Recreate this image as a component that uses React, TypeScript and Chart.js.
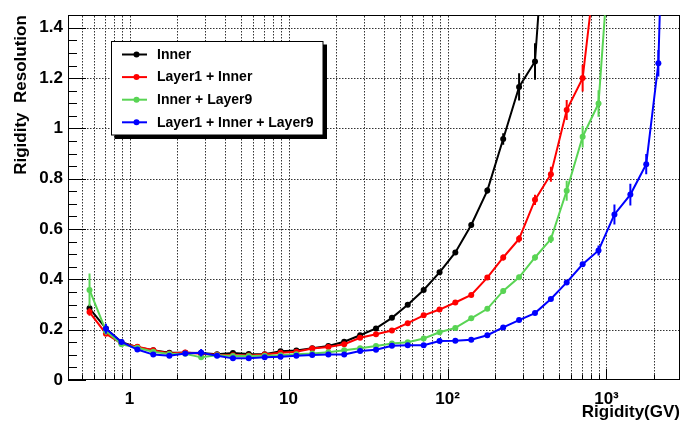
import React, { useEffect, useRef } from 'react';
import { Chart, registerables } from 'chart.js';

Chart.register(...registerables);

// ---------------- data ----------------
const rigidity = [
  0.56, 0.71, 0.89, 1.12, 1.41, 1.78, 2.24, 2.82, 3.55, 4.47, 5.62, 7.08, 8.91,
  11.2, 14.1, 17.8, 22.4, 28.2, 35.5, 44.7, 56.2, 70.8, 89.1, 112, 141, 178, 224,
  282, 355, 447, 562, 708, 891, 1122, 1413, 1778, 2120, 2820,
];

const inner = [
  0.285, 0.205, 0.150, 0.130, 0.118, 0.108, 0.108, 0.107, 0.102, 0.107, 0.103, 0.102, 0.114,
  0.117, 0.126, 0.135, 0.152, 0.178, 0.205, 0.247, 0.299, 0.358, 0.428, 0.507, 0.616, 0.753, 0.958,
  1.165, 1.266, 2.15, null, null, null, null, null, null, null, null,
];
const innerErr = [
  0.015, 0.010, 0.006, 0.005, 0.004, 0.004, 0.004, 0.004, 0.004, 0.004, 0.004, 0.004, 0.004,
  0.004, 0.004, 0.004, 0.004, 0.005, 0.005, 0.005, 0.006, 0.006, 0.007, 0.008, 0.010, 0.012, 0.023,
  0.054, 0.073, 0.1, 0, 0, 0, 0, 0, 0, 0, 0,
];

const layer1Inner = [
  0.270, 0.184, 0.145, 0.132, 0.118, 0.105, 0.109, 0.104, 0.100, 0.098, 0.097, 0.101, 0.108,
  0.112, 0.125, 0.131, 0.142, 0.168, 0.182, 0.197, 0.226, 0.257, 0.280, 0.308, 0.338, 0.407, 0.487,
  0.561, 0.716, 0.818, 1.073, 1.200, 1.740, null, null, null, null, null,
];
const layer1InnerErr = [
  0.015, 0.008, 0.005, 0.005, 0.004, 0.004, 0.004, 0.004, 0.004, 0.004, 0.004, 0.004, 0.004,
  0.004, 0.004, 0.004, 0.004, 0.005, 0.005, 0.005, 0.005, 0.006, 0.006, 0.007, 0.008, 0.010, 0.012,
  0.014, 0.020, 0.030, 0.040, 0.053, 0.07, 0, 0, 0, 0, 0,
];

const innerLayer9 = [
  0.358, 0.195, 0.142, 0.128, 0.112, 0.103, 0.104, 0.090, 0.098, 0.095, 0.095, 0.096, 0.098,
  0.102, 0.105, 0.110, 0.118, 0.126, 0.135, 0.145, 0.150, 0.165, 0.190, 0.207, 0.245, 0.283, 0.354,
  0.408, 0.487, 0.560, 0.752, 0.967, 1.099, 1.980, null, null, null, null,
];
const innerLayer9Err = [
  0.065, 0.015, 0.006, 0.005, 0.004, 0.004, 0.004, 0.008, 0.004, 0.004, 0.004, 0.004, 0.004,
  0.004, 0.004, 0.004, 0.004, 0.004, 0.005, 0.005, 0.005, 0.005, 0.006, 0.006, 0.007, 0.008, 0.010,
  0.010, 0.012, 0.015, 0.040, 0.043, 0.053, 0.07, 0, 0, 0, 0,
];

const layer1InnerLayer9 = [
  null, 0.204, 0.151, 0.121, 0.101, 0.096, 0.105, 0.108, 0.096, 0.086, 0.086, 0.090, 0.092,
  0.096, 0.099, 0.101, 0.101, 0.115, 0.120, 0.136, 0.138, 0.138, 0.155, 0.156, 0.160, 0.178, 0.209,
  0.238, 0.266, 0.322, 0.388, 0.460, 0.515, 0.658, 0.737, 0.858, 1.259, 4.0,
];
const layer1InnerLayer9Err = [
  0, 0.020, 0.008, 0.005, 0.005, 0.005, 0.006, 0.015, 0.006, 0.005, 0.005, 0.005, 0.005,
  0.004, 0.004, 0.004, 0.004, 0.004, 0.004, 0.004, 0.004, 0.005, 0.005, 0.005, 0.005, 0.005, 0.006,
  0.006, 0.006, 0.006, 0.006, 0.010, 0.020, 0.040, 0.043, 0.040, 0.053, 0.1,
];

const seriesLabels = ['Inner', 'Layer1 + Inner', 'Inner + Layer9', 'Layer1 + Inner + Layer9'];
const seriesValues = [inner, layer1Inner, innerLayer9, layer1InnerLayer9];
const seriesErrors = [innerErr, layer1InnerErr, innerLayer9Err, layer1InnerLayer9Err];
const seriesColors = ['#000000', '#ff0000', '#59d454', '#0000ff'];

const xTickValues = [
  0.5, 0.6, 0.7, 0.8, 0.9,
  1, 2, 3, 4, 5, 6, 7, 8, 9,
  10, 20, 30, 40, 50, 60, 70, 80, 90,
  100, 200, 300, 400, 500, 600, 700, 800, 900,
  1000, 2000,
];
const xTickLabels: Record<string, string> = { '1': '1', '10': '10', '100': '10²', '1000': '10³' };
const yTickValues = [
  0, 0.05, 0.1, 0.15, 0.2, 0.25, 0.3, 0.35, 0.4, 0.45, 0.5, 0.55, 0.6, 0.65, 0.7,
  0.75, 0.8, 0.85, 0.9, 0.95, 1.0, 1.05, 1.1, 1.15, 1.2, 1.25, 1.3, 1.35, 1.4, 1.45,
];

const xTitle = 'Rigidity(GV)';
const yTitle = 'Rigidity  Resolution';

// ---------------- styling ----------------
const FONT = "'Liberation Sans', Arial, Helvetica, sans-serif";
const GRID = '#333333';

const isDecade = (v: number) => Math.abs(Math.log10(v) - Math.round(Math.log10(v))) < 1e-9;
const isMajorY = (v: number) => Math.abs(v / 0.2 - Math.round(v / 0.2)) < 1e-6;

const bgPlugin = {
  id: 'bg',
  beforeDraw(chart: any) {
    const { ctx, width, height } = chart;
    ctx.save();
    ctx.fillStyle = '#ffffff';
    ctx.fillRect(0, 0, width, height);
    ctx.restore();
  },
};

// dotted grid, inward tick marks and frame (ROOT style)
const framePlugin = {
  id: 'frame',
  beforeDatasetsDraw(chart: any) {
    const { ctx, chartArea: a } = chart;
    const xs = chart.scales.x;
    const ys = chart.scales.y;
    const top = Math.round(a.top);
    const bottom = Math.round(a.bottom);
    const left = Math.round(a.left);
    const right = Math.round(a.right);
    ctx.save();
    // dotted grid
    ctx.strokeStyle = GRID;
    ctx.lineWidth = 1;
    ctx.setLineDash([1.5, 1.5]);
    ctx.beginPath();
    xs.ticks.forEach((t: any) => {
      const px = Math.round(xs.getPixelForValue(t.value)) + 0.5;
      if (px <= left + 1 || px >= right - 1) return;
      ctx.moveTo(px, top + 1);
      ctx.lineTo(px, bottom);
    });
    ys.ticks.forEach((t: any) => {
      if (!(t.value > 0 && isMajorY(t.value))) return;
      const py = Math.round(ys.getPixelForValue(t.value)) + 0.5;
      ctx.moveTo(left + 1, py);
      ctx.lineTo(right, py);
    });
    ctx.stroke();
    ctx.setLineDash([]);
    // inward ticks
    ctx.strokeStyle = '#000';
    ctx.lineWidth = 1;
    ctx.beginPath();
    xs.ticks.forEach((t: any) => {
      const px = Math.round(xs.getPixelForValue(t.value)) + 0.5;
      const len = isDecade(t.value) ? 11 : 5.5;
      ctx.moveTo(px, bottom);
      ctx.lineTo(px, bottom - len);
    });
    ys.ticks.forEach((t: any) => {
      const py = Math.round(ys.getPixelForValue(t.value)) + 0.5;
      const len = isMajorY(t.value) ? 18 : 9;
      ctx.moveTo(left, py);
      ctx.lineTo(left + len, py);
    });
    ctx.stroke();
    // frame
    ctx.strokeRect(left + 0.5, top + 0.5, right - left - 1, bottom - top - 1);
    ctx.restore();
  },
};

const errorBarPlugin = {
  id: 'errorBars',
  afterDatasetDraw(chart: any, args: any) {
    const ds = chart.data.datasets[args.index];
    const errs: number[] = ds.errors || [];
    const { ctx, chartArea: a } = chart;
    const xs = chart.scales.x;
    const ys = chart.scales.y;
    ctx.save();
    ctx.beginPath();
    ctx.rect(a.left, a.top, a.right - a.left, a.bottom - a.top);
    ctx.clip();
    ctx.strokeStyle = ds.borderColor;
    ctx.lineWidth = 2;
    ctx.beginPath();
    ds.data.forEach((p: any, j: number) => {
      if (p.y == null || !errs[j]) return;
      const px = xs.getPixelForValue(p.x);
      ctx.moveTo(px, ys.getPixelForValue(p.y - errs[j]));
      ctx.lineTo(px, ys.getPixelForValue(p.y + errs[j]));
    });
    ctx.stroke();
    ctx.restore();
  },
};

const legendPlugin = {
  id: 'rootLegend',
  afterDraw(chart: any) {
    const { ctx } = chart;
    const bx = 111.5, by = 41.5, bw = 211.5, bh = 93.5;
    ctx.save();
    ctx.fillStyle = '#000';
    ctx.fillRect(bx + 3, by + 3, bw + 1, bh + 1);
    ctx.fillStyle = '#fff';
    ctx.fillRect(bx, by, bw, bh);
    ctx.strokeStyle = '#000';
    ctx.lineWidth = 1;
    ctx.strokeRect(bx, by, bw, bh);
    chart.data.datasets.forEach((ds: any, i: number) => {
      const y = 54.5 + i * 22.6;
      ctx.strokeStyle = ds.borderColor;
      ctx.lineWidth = 2;
      ctx.beginPath();
      ctx.moveTo(122, y);
      ctx.lineTo(147, y);
      ctx.stroke();
      ctx.fillStyle = ds.borderColor;
      ctx.beginPath();
      ctx.arc(136.5, y, 3, 0, Math.PI * 2);
      ctx.fill();
      ctx.fillStyle = '#000';
      ctx.font = `bold 14px ${FONT}`;
      ctx.textAlign = 'left';
      ctx.textBaseline = 'middle';
      ctx.fillText(ds.label, 157, y + 0.5);
    });
    ctx.restore();
  },
};

export default function App() {
  const canvasRef = useRef<HTMLCanvasElement | null>(null);

  useEffect(() => {
    document.body.style.margin = '0';
    const canvas = canvasRef.current;
    if (!canvas) return;

    const datasets = seriesLabels.map((label, i) => ({
      label,
      data: rigidity.map((x, j) => ({ x, y: seriesValues[i][j] })),
      errors: seriesErrors[i],
      borderColor: seriesColors[i],
      backgroundColor: seriesColors[i],
      pointBackgroundColor: seriesColors[i],
      pointBorderColor: seriesColors[i],
      pointBorderWidth: 0,
      pointRadius: 3,
      borderWidth: 2,
      tension: 0,
      fill: false,
      spanGaps: false,
      order: seriesLabels.length - i,
    }));

    const chart = new Chart(canvas, {
      type: 'line',
      data: { datasets } as any,
      options: {
        animation: false,
        responsive: false,
        devicePixelRatio: 1,
        layout: { padding: { top: 13, right: 1, left: 0, bottom: 0 } },
        plugins: { legend: { display: false }, tooltip: { enabled: false } },
        scales: {
          x: {
            type: 'logarithmic',
            position: 'bottom',
            min: 0.41,
            max: 2900,
            afterBuildTicks: (s: any) => {
              s.ticks = xTickValues.map((v) => ({ value: v, major: isDecade(v) }));
            },
            afterFit: (s: any) => {
              s.height = 41;
            },
            grid: { display: false, drawTicks: false },
            border: { display: false },
            ticks: {
              autoSkip: false,
              maxRotation: 0,
              minRotation: 0,
              padding: 9,
              color: '#000',
              font: { family: FONT, size: 17, weight: 'bold' },
              callback: (v: any) => xTickLabels[String(v)] ?? '',
            },
            title: {
              display: true,
              text: xTitle,
              align: 'end',
              color: '#000',
              font: { family: FONT, size: 17, weight: 'bold' },
              padding: { top: 0, bottom: -2 },
            },
          },
          y: {
            type: 'linear',
            min: 0,
            max: 1.45,
            afterBuildTicks: (s: any) => {
              s.ticks = yTickValues.map((v) => ({ value: v }));
            },
            afterFit: (s: any) => {
              s.width = 68;
            },
            grid: { display: false, drawTicks: false },
            border: { display: false },
            ticks: {
              autoSkip: false,
              padding: 5,
              color: '#000',
              font: { family: FONT, size: 17, weight: 'bold' },
              callback: (v: any) => (isMajorY(Number(v)) ? String(Number(Number(v).toFixed(1))) : ''),
            },
            title: {
              display: true,
              text: yTitle,
              align: 'end',
              color: '#000',
              font: { family: FONT, size: 17, weight: 'bold' },
              padding: { top: 11, bottom: 0 },
            },
          },
        },
      } as any,
      plugins: [bgPlugin, framePlugin, errorBarPlugin, legendPlugin],
    });

    return () => chart.destroy();
  }, []);

  return (
    <div style={{ position: 'absolute', left: 0, top: 0, width: 684, height: 421 }}>
      <canvas ref={canvasRef} width={684} height={421} style={{ display: 'block', width: 684, height: 421 }} />
    </div>
  );
}
